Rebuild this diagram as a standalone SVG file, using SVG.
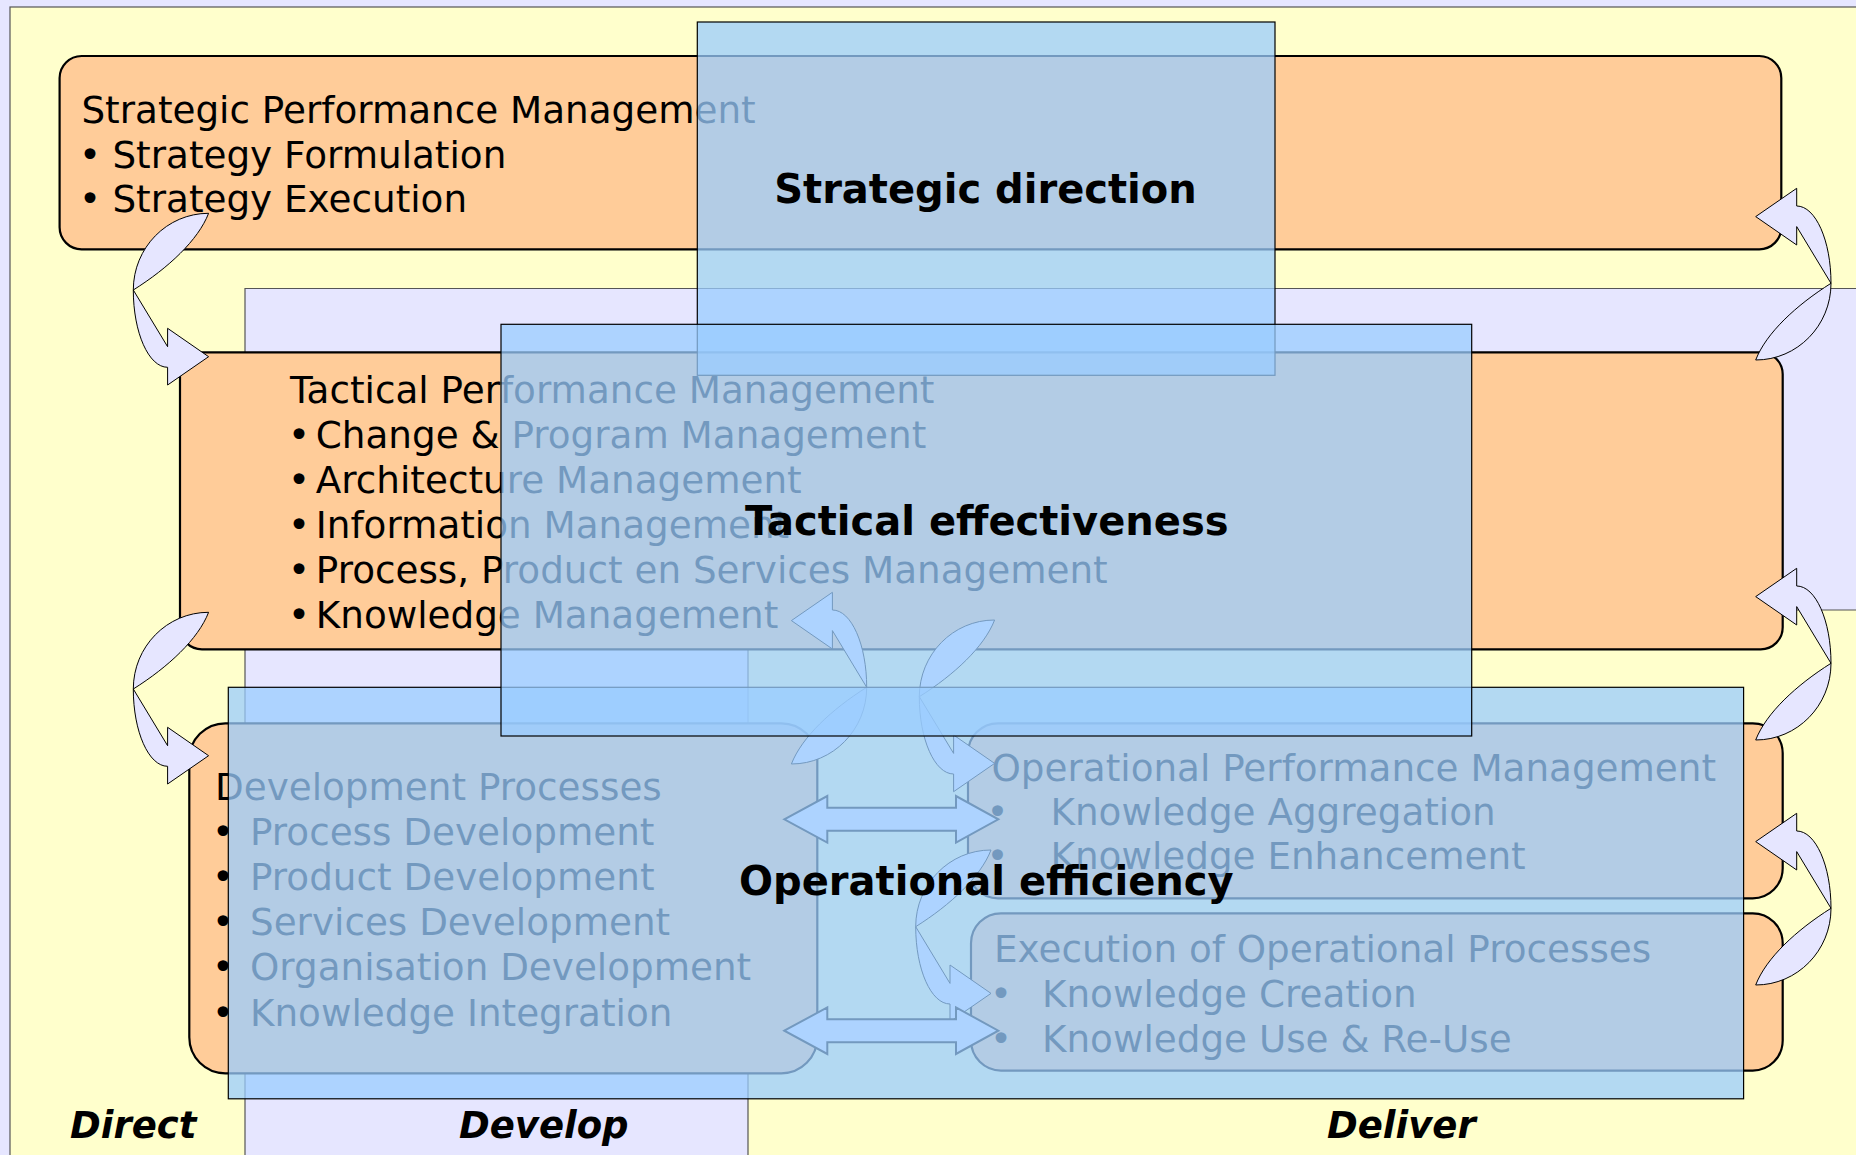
<svg xmlns="http://www.w3.org/2000/svg" xmlns:xlink="http://www.w3.org/1999/xlink" width="1856" height="1155" viewBox="0 0 1856 1155">
<style>
.box{fill:#FFCC99;stroke:#000;stroke-width:2.2}
.txt{font-family:"DejaVu Sans","Verdana",sans-serif;font-size:37.3px;fill:#000}
.ttl{font-family:"DejaVu Sans","Verdana",sans-serif;font-size:40px;font-weight:bold;fill:#000;text-anchor:middle}
.col{font-family:"DejaVu Sans","Verdana",sans-serif;font-size:37px;font-weight:bold;font-style:italic;fill:#000}
.ov{fill:#99CCFF;fill-opacity:0.75;stroke:#000;stroke-width:1.2}
.carr{fill:#E6E6FF;stroke:#000;stroke-width:1}
.barr{fill:#E6E6FF;stroke:#000;stroke-width:2}
</style>
<defs>
<path id="cla" d="M -75.3,-66.7 L -34.3,-95 L -34.3,-77.3 C -15.4,-77.3 0,-42.7 0,0 C 0,42.3 -33.7,76.7 -75.3,76.7 C -65,50 -35,22 0,0 L -34.3,-56.7 L -34.3,-38.3 Z"/>
<path id="dba" d="M 0,0 L 43,-23.3 L 43,-11.5 L 171.7,-11.5 L 171.7,-23.3 L 214,0 L 171.7,23.3 L 171.7,11.5 L 43,11.5 L 43,23.3 Z"/>
</defs>
<g id="background">
<rect x="0" y="0" width="1856" height="1155" fill="#E6E6FF"/>
<rect x="10" y="7" width="1860" height="1160" fill="#FFFFCC" stroke="#555" stroke-width="1.2"/>
<path d="M 245,1170 V 288.5 H 1870 V 610 H 748 V 1170 Z" fill="#E6E6FF" stroke="#555" stroke-width="1.2"/>
</g>
<g id="node-strategic">
<rect class="box" x="59.6" y="56" width="1721.7" height="193.3" rx="22"/>
<text class="txt" x="81.4" y="123">Strategic Performance Management</text>
<text class="txt" y="168"><tspan x="79">•</tspan><tspan x="112.4">Strategy Formulation</tspan></text>
<text class="txt" y="212"><tspan x="79">•</tspan><tspan x="112.4">Strategy Execution</tspan></text>
</g>
<g id="node-tactical">
<rect class="box" x="180" y="352.3" width="1602.7" height="297" rx="22"/>
<text class="txt" x="290" y="403.3">Tactical Performance Management</text>
<text class="txt" y="448.3"><tspan x="288">•</tspan><tspan x="315.8">Change &amp; Program Management</tspan></text>
<text class="txt" y="493.3"><tspan x="288">•</tspan><tspan x="315.8">Architecture Management</tspan></text>
<text class="txt" y="538.3"><tspan x="288">•</tspan><tspan x="315.8">Information Management</tspan></text>
<text class="txt" y="583"><tspan x="288">•</tspan><tspan x="315.8">Process, Product en Services Management</tspan></text>
<text class="txt" y="628"><tspan x="288">•</tspan><tspan x="315.8">Knowledge Management</tspan></text>
</g>
<g id="node-development">
<rect class="box" x="189.3" y="723.3" width="628" height="350" rx="36"/>
<text class="txt" x="215" y="800">Development Processes</text>
<text class="txt" y="845"><tspan x="212">•</tspan><tspan x="250">Process Development</tspan></text>
<text class="txt" y="890"><tspan x="212">•</tspan><tspan x="250">Product Development</tspan></text>
<text class="txt" y="935"><tspan x="212">•</tspan><tspan x="250">Services Development</tspan></text>
<text class="txt" y="980"><tspan x="212">•</tspan><tspan x="250">Organisation Development</tspan></text>
<text class="txt" y="1025.5"><tspan x="212">•</tspan><tspan x="250">Knowledge Integration</tspan></text>
</g>
<g id="node-operational-pm">
<rect class="box" x="968" y="723.3" width="814.7" height="175" rx="30"/>
<text class="txt" x="991.5" y="780.5">Operational Performance Management</text>
<text class="txt" y="824.5"><tspan x="986.5">•</tspan><tspan x="1050.5">Knowledge Aggregation</tspan></text>
<text class="txt" y="869"><tspan x="986.5">•</tspan><tspan x="1050.5">Knowledge Enhancement</tspan></text>
</g>
<g id="node-execution">
<rect class="box" x="971" y="913.3" width="811.7" height="157.3" rx="30"/>
<text class="txt" x="994" y="961.7">Execution of Operational Processes</text>
<text class="txt" y="1006.7"><tspan x="990">•</tspan><tspan x="1042">Knowledge Creation</tspan></text>
<text class="txt" y="1051.7"><tspan x="990">•</tspan><tspan x="1042">Knowledge Use &amp; Re-Use</tspan></text>
</g>
<g id="connectors">
<use xlink:href="#cla" href="#cla" class="carr" transform="translate(133.3,290) rotate(180)"/>
<use xlink:href="#cla" href="#cla" class="carr" transform="translate(133.3,689) rotate(180)"/>
<use xlink:href="#cla" href="#cla" class="carr" transform="translate(1831,283.3)"/>
<use xlink:href="#cla" href="#cla" class="carr" transform="translate(1831,663.3)"/>
<use xlink:href="#cla" href="#cla" class="carr" transform="translate(1831,908.3)"/>
<use xlink:href="#cla" href="#cla" class="carr" transform="translate(866.7,687.3)"/>
<use xlink:href="#cla" href="#cla" class="carr" transform="translate(919.3,696.7) rotate(180)"/>
<use xlink:href="#cla" href="#cla" class="carr" transform="translate(915.7,926.7) rotate(180)"/>
<use xlink:href="#dba" href="#dba" class="barr" transform="translate(784.3,819.3)"/>
<use xlink:href="#dba" href="#dba" class="barr" transform="translate(784.3,1030.7)"/>
</g>
<g id="overlay-operational">
<rect class="ov" x="228.3" y="687.3" width="1515.3" height="411.5"/>
<text class="ttl" x="986.3" y="895">Operational efficiency</text>
</g>
<g id="overlay-strategic">
<rect class="ov" x="697.3" y="22" width="577.7" height="353.3"/>
<text class="ttl" x="985.5" y="203.3">Strategic direction</text>
</g>
<g id="overlay-tactical">
<rect class="ov" x="501" y="324.3" width="970.7" height="411.7"/>
<text class="ttl" x="986.7" y="535">Tactical effectiveness</text>
</g>
<g id="columns">
<text class="col" x="70" y="1138">Direct</text>
<text class="col" x="459" y="1138">Develop</text>
<text class="col" x="1327" y="1138">Deliver</text>
</g>
</svg>
